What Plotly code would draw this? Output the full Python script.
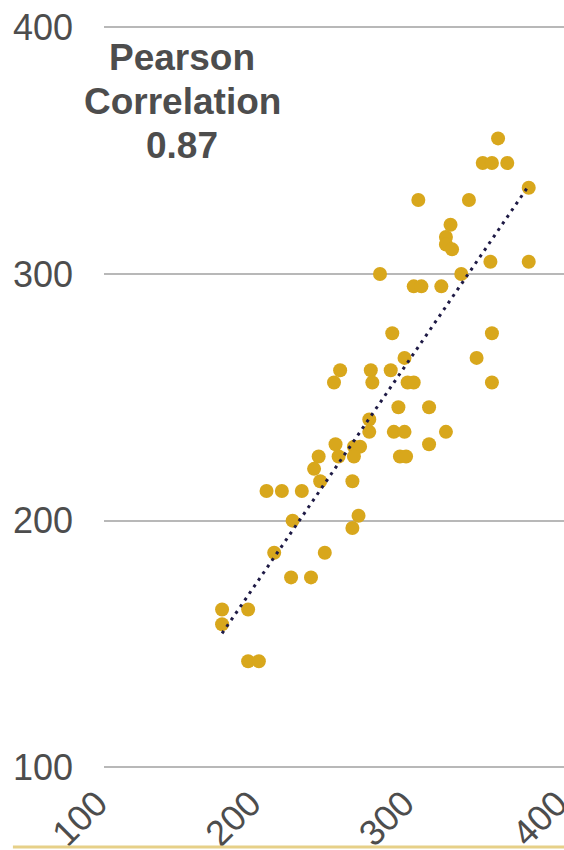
import numpy as np
import plotly.graph_objects as go

# Paired measurements (x, y)
x_vals = [357, 347, 353, 363, 377, 305, 338, 326, 323, 323, 327, 352, 377,
          280, 333, 302, 307, 320, 288, 353, 296, 343, 254, 274, 287, 250,
          275, 298, 302, 353, 292, 312, 273, 273, 289, 296, 323, 312, 251,
          263, 267, 263, 240, 253, 293, 297, 237, 241, 262, 206, 216, 229,
          266, 223, 262, 211, 244, 222, 235, 177, 194, 177, 194, 201]
y_vals = [355, 345, 345, 345, 335, 330, 330, 320, 315, 312, 310, 305, 305,
          300, 300, 295, 295, 295, 276, 276, 266, 266, 261, 261, 261, 256,
          256, 256, 256, 256, 246, 246, 241, 236, 236, 236, 236, 231, 231,
          230, 230, 226, 226, 226, 226, 226, 221, 216, 216, 212, 212, 212,
          202, 200, 197, 187, 187, 177, 177, 164, 164, 158, 143, 143]

x_ticks = [100, 200, 300, 400]
y_ticks = [100, 200, 300, 400]
title_lines = ["Pearson", "Correlation", "0.87"]

x = np.array(x_vals, dtype=float)
y = np.array(y_vals, dtype=float)
slope, intercept = np.polyfit(x, y, 1)
fit_x = np.array([x.min(), x.max()])
fit_y = slope * fit_x + intercept

fig = go.Figure()
fig.add_trace(go.Scatter(
    x=x_vals, y=y_vals, mode="markers",
    marker=dict(size=14, color="#D8A71C", line=dict(width=0)),
    hoverinfo="x+y", showlegend=False,
))
fig.add_trace(go.Scatter(
    x=fit_x, y=fit_y, mode="lines",
    line=dict(color="#1E1A45", width=3, dash="3px,5px"),
    hoverinfo="skip", showlegend=False,
))

# correlation caption, one annotation per line
line_centers = [0.9503, 0.8919, 0.8340]
for txt, yc in zip(title_lines, line_centers):
    fig.add_annotation(
        x=0.1696, y=yc, xref="paper", yref="paper",
        xanchor="center", yanchor="middle", showarrow=False,
        text="<b>" + txt + "</b>",
        font=dict(family="Liberation Sans, Arial, sans-serif", size=37, color="#4D4D4D"),
    )

# baseline rule under the axis labels
fig.add_shape(
    type="line", xref="paper", yref="paper",
    x0=-0.198, x1=1.0, y0=-0.0968, y1=-0.0968,
    line=dict(color="#E6D088", width=3),
)

fig.update_layout(
    width=564, height=850,
    margin=dict(l=104, r=0, t=20, b=76, autoexpand=False),
    paper_bgcolor="white", plot_bgcolor="white",
    font=dict(family="Liberation Sans, Arial, sans-serif", color="#4D4D4D"),
    xaxis=dict(
        range=[100, 400], tickvals=x_ticks, ticktext=[str(v) for v in x_ticks],
        tickangle=-45, showgrid=False, zeroline=False, showline=False,
        ticks="", automargin=False, ticklabeloverflow="allow",
        ticklabelshift=-7,
        tickfont=dict(size=36, color="#4D4D4D"),
    ),
    yaxis=dict(
        range=[97.28, 403.0], tickvals=y_ticks, ticktext=[str(v) for v in y_ticks],
        showgrid=True, gridcolor="#B8B8B8", gridwidth=1.5,
        zeroline=False, showline=False, ticks="", automargin=False,
        ticklabelstandoff=30, tickfont=dict(size=36, color="#4D4D4D"),
    ),
)

fig.write_html("out.html")
